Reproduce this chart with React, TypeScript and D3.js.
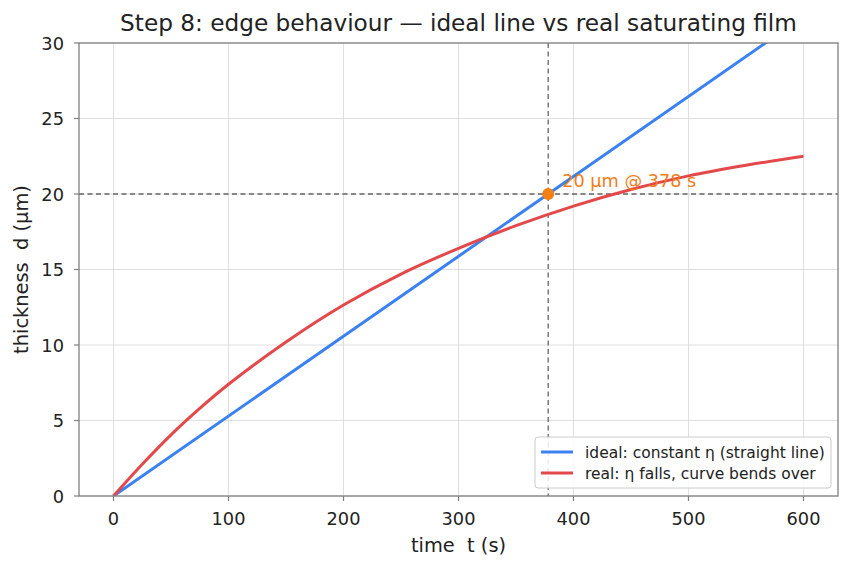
import React from "react";
import * as d3 from "d3";

// ideal line (constant efficiency) — endpoints
const idealT = [0, 378, 600];
const idealD = [0, 20, 31.75];

// real saturating film, read at regular time steps
const realT = [0, 25, 50, 75, 100, 150, 200, 250, 300, 350, 400, 450, 500, 550, 600];
const realD = [0, 2.1, 4.05, 5.8, 7.4, 10.2, 12.65, 14.7, 16.4, 17.9, 19.2, 20.3, 21.2, 21.9, 22.5];

const xTicks = [0, 100, 200, 300, 400, 500, 600];
const yTicks = [0, 5, 10, 15, 20, 25, 30];

const marker = { t: 378, d: 20, label: "20 µm @ 378 s" };

const W = 852;
const H = 569;
const M = { left: 79, right: 14, top: 43, bottom: 73 };
const FONT = "DejaVu Sans, sans-serif";

const App = () => {
  const x = d3.scaleLinear().domain([-30, 630]).range([M.left, W - M.right]);
  const y = d3.scaleLinear().domain([0, 30]).range([H - M.bottom, M.top]);

  const line = d3.line<[number, number]>()
    .x(d => x(d[0]))
    .y(d => y(d[1]));
  const smooth = d3.line<[number, number]>()
    .x(d => x(d[0]))
    .y(d => y(d[1]))
    .curve(d3.curveCatmullRom);

  const ideal = idealT.map((t, i) => [t, idealD[i]] as [number, number]);
  const real = realT.map((t, i) => [t, realD[i]] as [number, number]);

  const x0 = M.left, x1 = W - M.right, y0 = M.top, y1 = H - M.bottom;
  const axisColor = "#808080";

  return (
    <div style={{ position: "absolute", left: 0, top: 0 }}>
      <svg width={W} height={H} style={{ display: "block", background: "#fff" }} fontFamily={FONT}>
        <defs>
          <clipPath id="plot">
            <rect x={x0} y={y0} width={x1 - x0} height={y1 - y0} />
          </clipPath>
        </defs>

        {/* grid */}
        {xTicks.map(t => (
          <line key={"gx" + t} x1={x(t)} x2={x(t)} y1={y0} y2={y1} stroke="#d8d8d8" strokeWidth={0.8} />
        ))}
        {yTicks.map(t => (
          <line key={"gy" + t} x1={x0} x2={x1} y1={y(t)} y2={y(t)} stroke="#d8d8d8" strokeWidth={0.8} />
        ))}

        {/* reference lines */}
        <line x1={x(marker.t)} x2={x(marker.t)} y1={y0} y2={y1} stroke="#666" strokeWidth={1.3} strokeDasharray="5,3.5" />
        <line x1={x0} x2={x1} y1={y(marker.d)} y2={y(marker.d)} stroke="#666" strokeWidth={1.3} strokeDasharray="5,3.5" />

        <g clipPath="url(#plot)">
          <path d={line(ideal) ?? ""} fill="none" stroke="#3b82f0" strokeWidth={3} />
          <path d={smooth(real) ?? ""} fill="none" stroke="#e3484a" strokeWidth={3} />
        </g>

        <circle cx={x(marker.t)} cy={y(marker.d)} r={6} fill="#f57f17" />
        <text x={x(marker.t) + 14} y={y(marker.d) - 7} fontSize={17.7} fill="#f07d1a">{marker.label}</text>

        {/* frame */}
        <rect x={x0} y={y0} width={x1 - x0} height={y1 - y0} fill="none" stroke={axisColor} strokeWidth={1.3} />

        {/* ticks */}
        {xTicks.map(t => (
          <g key={"tx" + t}>
            <line x1={x(t)} x2={x(t)} y1={y1} y2={y1 + 5} stroke={axisColor} strokeWidth={1.2} />
            <text x={x(t)} y={525} fontSize={17.8} textAnchor="middle" fill="#222">{t}</text>
          </g>
        ))}
        {yTicks.map(t => (
          <g key={"ty" + t}>
            <line x1={x0 - 5} x2={x0} y1={y(t)} y2={y(t)} stroke={axisColor} strokeWidth={1.2} />
            <text x={x0 - 15} y={y(t) + 6.5} fontSize={17.8} textAnchor="end" fill="#222">{t}</text>
          </g>
        ))}

        {/* labels */}
        <text x={(x0 + x1) / 2} y={31} fontSize={23.2} textAnchor="middle" fill="#222">
          Step 8: edge behaviour — ideal line vs real saturating film
        </text>
        <text x={(x0 + x1) / 2} y={552} fontSize={19.4} textAnchor="middle" fill="#222" style={{ whiteSpace: "pre" }}>
          {"time  t (s)"}
        </text>
        <text transform={`translate(28, ${(y0 + y1) / 2}) rotate(-90)`} fontSize={19.4} textAnchor="middle" fill="#222" style={{ whiteSpace: "pre" }}>
          {"thickness  d (µm)"}
        </text>

        {/* legend */}
        <g transform="translate(535, 437)">
          <rect x={0} y={0} width={296} height={51} rx={3} fill="#fff" fillOpacity={0.85} stroke="#ccc" />
          <line x1={6} x2={38} y1={15} y2={15} stroke="#3b82f0" strokeWidth={3} />
          <text x={50} y={20.5} fontSize={15.5} fill="#222">ideal: constant η (straight line)</text>
          <line x1={6} x2={38} y1={36} y2={36} stroke="#e3484a" strokeWidth={3} />
          <text x={50} y={41.5} fontSize={15.5} fill="#222">real: η falls, curve bends over</text>
        </g>
      </svg>
    </div>
  );
};

export default App;
